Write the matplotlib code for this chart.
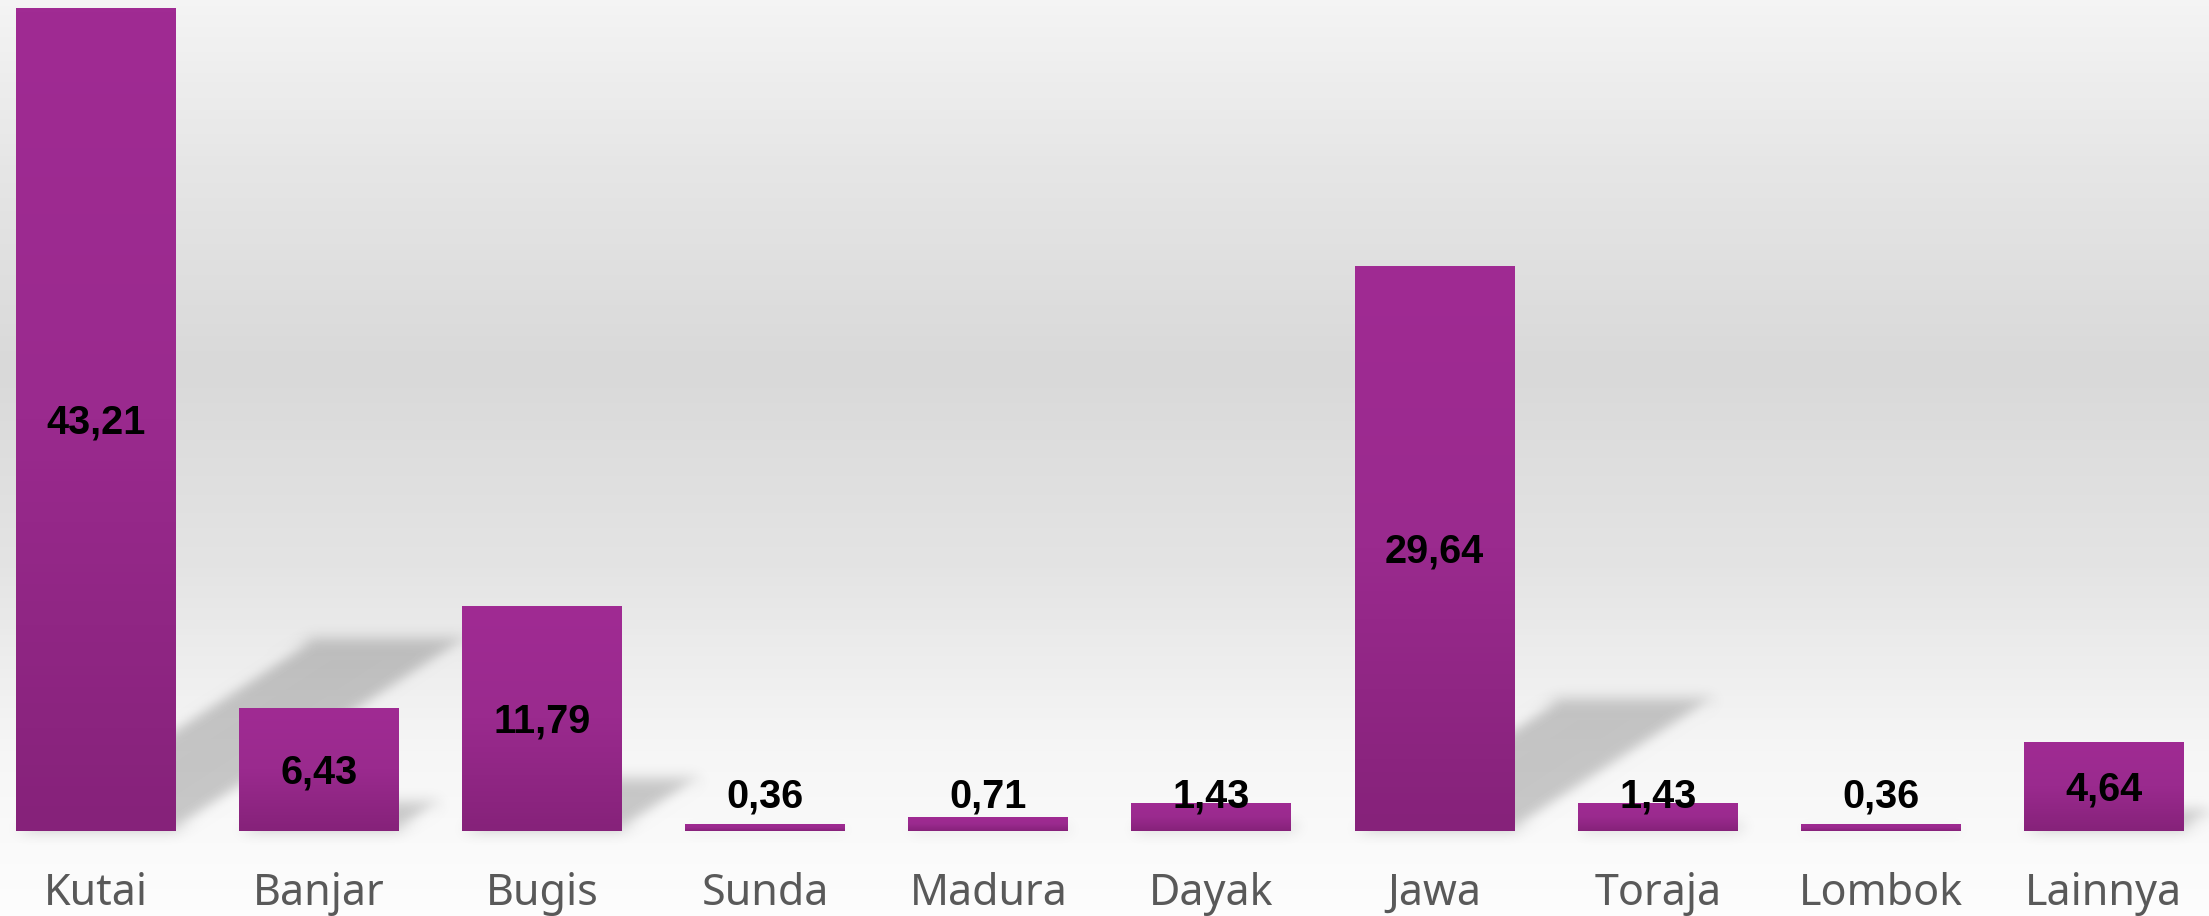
import matplotlib
matplotlib.use('Agg')
import matplotlib.pyplot as plt
import numpy as np
from matplotlib.patches import Polygon
from matplotlib.colors import LinearSegmentedColormap

# data
categories = ['Kutai', 'Banjar', 'Bugis', 'Sunda', 'Madura', 'Dayak',
              'Jawa', 'Toraja', 'Lombok', 'Lainnya']
values = [43.21, 6.43, 11.79, 0.36, 0.71, 1.43, 29.64, 1.43, 0.36, 4.64]
labels = ['43,21', '6,43', '11,79', '0,36', '0,71', '1,43',
          '29,64', '1,43', '0,36', '4,64']


def blur(im, dpi, sigma=7):
    """simple separable gaussian blur for agg_filter"""
    pad = int(sigma * 3)
    a = np.pad(im, ((pad, pad), (pad, pad), (0, 0)))
    k = np.exp(-0.5 * (np.arange(-pad, pad + 1) / sigma) ** 2)
    k = k / k.sum()
    for axis in (0, 1):
        out = np.zeros_like(a)
        for i, w in zip(range(-pad, pad + 1), k):
            out += w * np.roll(a, i, axis=axis)
        a = out
    return a, -pad, -pad


fig = plt.figure(figsize=(22.09, 9.16), dpi=100)
ax = fig.add_axes([0, 0, 1, 1])
xlim = (-0.430, 9.471)
ylim = (-4.48, 43.63)

# background gradient (top -> bottom)
bg = LinearSegmentedColormap.from_list('bg', [
    (0.0, '#f4f4f4'), (0.18, '#e6e6e6'), (0.40, '#d9d9d9'),
    (0.62, '#e4e4e4'), (0.82, '#f6f6f6'), (1.0, '#fdfdfd')])
ax.imshow(np.linspace(0, 1, 300).reshape(-1, 1), cmap=bg, aspect='auto',
          extent=[xlim[0], xlim[1], ylim[0], ylim[1]], zorder=0)

x = np.arange(len(categories))
width = 0.717
bars = ax.bar(x, values, width=width, color='none', zorder=3)

# perspective shadows
for xi, v in zip(x, values):
    hs = 0.234 * v
    dx = 0.1306 * hs
    x0, x1 = xi - width / 2, xi + width / 2
    poly = Polygon([(x0, 0), (x1, 0), (x1 + dx, hs), (x0 + dx, hs)],
                   closed=True, facecolor='#000000', alpha=0.2,
                   edgecolor='none', zorder=1)
    poly.set_agg_filter(blur)
    ax.add_patch(poly)

# gradient fill on bars
barcm = LinearSegmentedColormap.from_list('bar', ['#86227a', '#9a2a8e', '#a02b93'])
grad = np.linspace(1, 0, 200).reshape(-1, 1)
for b in bars:
    im = ax.imshow(grad, cmap=barcm, aspect='auto', zorder=3,
                   extent=[b.get_x(), b.get_x() + b.get_width(), 0, b.get_height()])
    im.set_clip_path(b)

lab_fs = 28.5
cat_fs = 31
for xi, v, lab in zip(x, values, labels):
    ax.annotate(lab, (xi, max(v / 2, 1.97)), xytext=(0, -0.716 * lab_fs / 2),
                textcoords='offset points', ha='center', va='baseline',
                fontsize=lab_fs, fontweight='bold', color='black',
                family='Liberation Sans', zorder=5)
    ax.text(xi, -3.90, categories[xi], ha='center', va='baseline',
            fontsize=cat_fs, color='#595959', family='Noto Sans', zorder=5)

ax.set_xlim(*xlim)
ax.set_ylim(*ylim)
ax.axis('off')

fig.savefig('out.png', dpi=100)
